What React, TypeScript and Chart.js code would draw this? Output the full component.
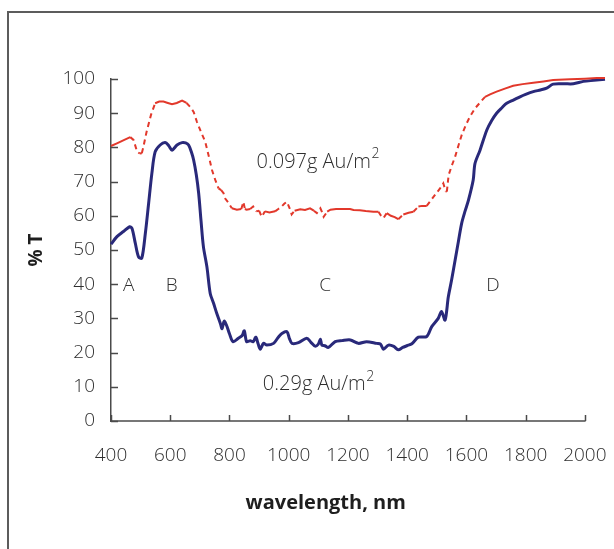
import React, { useEffect, useRef } from 'react';
import { Chart, registerables } from 'chart.js';

Chart.register(...registerables);

// 0.097 g Au/m2 sample (red, dashed where steep)
const lowWavelengths = [
  400, 420, 445, 465, 476, 488, 497, 504, 509, 520, 535, 549, 563, 577, 592, 606, 622, 640, 655, 667,
  679, 690, 704, 718, 730, 741, 752, 763, 772, 780, 785, 795, 808, 825, 840, 847, 852, 858, 870, 880,
  891, 900, 909, 920, 935, 954, 965, 976, 985, 994, 1005, 1010, 1020, 1039, 1055, 1072, 1085, 1095, 1107, 1113,
  1118, 1130, 1141, 1160, 1185, 1207, 1219, 1240, 1260, 1286, 1303, 1312, 1320, 1331, 1345, 1358, 1370, 1387, 1405, 1421,
  1438, 1450, 1466, 1480, 1494, 1511, 1522, 1530, 1534, 1540, 1550, 1562, 1573, 1584, 1598, 1612, 1630, 1646, 1663, 1680,
  1702, 1730, 1758, 1790, 1826, 1860, 1893, 1950, 2000, 2040, 2068,
];
const lowTransmission = [
  80.4, 81.2, 82.2, 83.0, 82.2, 78.8, 78.2, 78.3, 80.0, 84.5, 89.5, 92.9, 93.4, 93.4, 93.0, 92.6, 93.0, 93.7, 93.0, 91.9,
  90.4, 87.5, 84.5, 81.7, 77.5, 73.4, 70.5, 68.0, 67.5, 66.6, 65.1, 64.0, 62.2, 61.8, 62.0, 64.1, 62.0, 61.8, 62.0, 62.7,
  61.3, 61.5, 59.7, 61.3, 61.0, 61.3, 62.0, 62.7, 63.5, 64.1, 61.8, 60.4, 61.5, 61.9, 61.7, 62.2, 61.5, 60.8, 62.2, 61.0,
  59.7, 61.2, 61.8, 62.0, 62.0, 62.0, 61.7, 61.6, 61.4, 61.2, 61.2, 60.0, 59.3, 60.8, 60.0, 59.6, 59.0, 60.4, 60.9, 61.2,
  62.7, 62.9, 62.9, 64.5, 66.1, 68.0, 69.5, 67.2, 67.1, 71.9, 74.5, 77.3, 80.5, 83.6, 86.5, 89.0, 91.5, 93.1, 94.8, 95.5,
  96.3, 97.2, 98.0, 98.5, 98.9, 99.3, 99.7, 99.9, 100.1, 100.3, 100.3,
];

// 0.29 g Au/m2 sample (navy, solid)
const highWavelengths = [
  400, 420, 442, 463, 471, 482, 493, 504, 516, 527, 538, 549, 566, 583, 595, 606, 623, 640, 652, 662,
  672, 679, 688, 696, 704, 712, 724, 735, 746, 757, 769, 775, 782, 790, 800, 812, 830, 843, 850, 858,
  870, 880, 889, 897, 904, 915, 926, 949, 965, 977, 994, 1003, 1011, 1033, 1061, 1075, 1089, 1100, 1107, 1112,
  1122, 1134, 1157, 1180, 1208, 1235, 1263, 1297, 1310, 1320, 1337, 1355, 1370, 1385, 1399, 1416, 1438, 1466, 1483, 1505,
  1516, 1528, 1539, 1550, 1562, 1573, 1584, 1596, 1607, 1623, 1629, 1646, 1669, 1685, 1702, 1720, 1736, 1760, 1781, 1800,
  1826, 1850, 1871, 1893, 1930, 1961, 1995, 2030, 2068,
];
const highTransmission = [
  51.7, 53.9, 55.4, 56.8, 56.3, 52.0, 48.0, 47.6, 54.9, 63.6, 72.4, 78.7, 80.7, 81.4, 80.5, 79.2, 80.7, 81.4, 81.3, 80.7,
  78.5, 76.3, 72.0, 66.6, 58.5, 51.0, 45.0, 37.3, 34.5, 31.5, 28.6, 27.0, 29.2, 28.0, 25.5, 23.2, 24.2, 25.0, 26.4, 23.2,
  23.5, 23.2, 24.5, 22.5, 21.0, 22.7, 22.2, 22.7, 24.5, 25.6, 26.1, 24.0, 22.7, 22.9, 24.2, 23.0, 21.9, 22.5, 23.9, 22.2,
  22.0, 21.5, 23.2, 23.5, 23.7, 22.7, 23.2, 22.7, 22.5, 21.0, 22.2, 21.8, 20.8, 21.5, 22.0, 22.6, 24.5, 24.7, 27.6, 30.0,
  32.0, 29.5, 36.3, 41.2, 47.1, 52.5, 57.8, 61.5, 64.6, 70.5, 75.3, 79.2, 85.1, 87.8, 90.0, 91.6, 92.9, 93.9, 94.8, 95.5,
  96.3, 96.8, 97.3, 98.5, 98.6, 98.6, 99.3, 99.6, 99.9,
];

const seriesLabels = ['0.097g Au/m', '0.29g Au/m'];
const regionLetters = ['A', 'B', 'C', 'D'];
const xTickValues = [400, 600, 800, 1000, 1200, 1400, 1600, 1800, 2000];
const yTickValues = [0, 10, 20, 30, 40, 50, 60, 70, 80, 90, 100];
const xAxisTitle = 'wavelength, nm';

const FONT = '"Open Sans", "Noto Sans", sans-serif';
const TEXT = '#2e2e2e';
const AXIS = '#4a4a4a';

const decorPlugin = {
  id: 'decor',
  afterDraw(chart: any, _args: any, opts: any) {
    const { ctx, chartArea, scales } = chart;
    const x = scales.x;
    const y = scales.y;
    ctx.save();
    ctx.strokeStyle = AXIS;
    ctx.lineWidth = 1.5;
    // x axis line, only over the labelled range
    const x0 = x.getPixelForValue(xTickValues[0]);
    const x1 = x.getPixelForValue(xTickValues[xTickValues.length - 1]);
    ctx.beginPath();
    ctx.moveTo(x0, chartArea.bottom);
    ctx.lineTo(x1 + 0.75, chartArea.bottom);
    ctx.stroke();
    // inward tick marks
    xTickValues.forEach((v) => {
      const px = Math.round(x.getPixelForValue(v)) + 0.5;
      ctx.beginPath();
      ctx.moveTo(px, chartArea.bottom);
      ctx.lineTo(px, chartArea.bottom - 6);
      ctx.stroke();
    });
    yTickValues.forEach((v) => {
      const py = Math.round(y.getPixelForValue(v)) + 0.5;
      ctx.beginPath();
      ctx.moveTo(chartArea.left, py);
      ctx.lineTo(chartArea.left + 7, py);
      ctx.stroke();
    });

    ctx.fillStyle = TEXT;
    ctx.textBaseline = 'middle';
    // region letters
    ctx.font = `300 19px ${FONT}`;
    ctx.textAlign = 'center';
    opts.regions.forEach((wl: number, i: number) => {
      ctx.fillText(regionLetters[i], x.getPixelForValue(wl), y.getPixelForValue(opts.regionLevel));
    });
    // series notes with superscript 2
    opts.notes.forEach((n: { wl: number; v: number }, i: number) => {
      const main = seriesLabels[i];
      ctx.font = `300 20px ${FONT}`;
      const w1 = ctx.measureText(main).width;
      ctx.font = `300 14px ${FONT}`;
      const w2 = ctx.measureText('2').width;
      const cx = x.getPixelForValue(n.wl);
      const cy = y.getPixelForValue(n.v);
      const start = cx - (w1 + w2) / 2;
      ctx.textAlign = 'left';
      ctx.font = `300 20px ${FONT}`;
      ctx.fillText(main, start, cy);
      ctx.font = `300 14px ${FONT}`;
      ctx.fillText('2', start + w1 + 0.5, cy - 8);
    });
    // x axis title
    ctx.fillStyle = '#1e1e1e';
    ctx.font = `bold 20px ${FONT}`;
    ctx.textAlign = 'center';
    ctx.fillText(xAxisTitle, x.getPixelForValue(opts.titleWl), chartArea.bottom + opts.titleOffset);
    ctx.restore();
  },
};

export default function App() {
  const canvasRef = useRef<HTMLCanvasElement | null>(null);

  useEffect(() => {
    const canvas = canvasRef.current;
    if (!canvas) return;
    const steepDash = (ctx: any) => {
      const dx = Math.abs(ctx.p1.x - ctx.p0.x);
      const dy = Math.abs(ctx.p1.y - ctx.p0.y);
      return dy > dx * 0.7 ? [5, 4] : undefined;
    };
    const chart = new Chart(canvas, {
      type: 'line',
      data: {
        datasets: [
          {
            label: seriesLabels[0],
            data: lowWavelengths.map((w, i) => ({ x: w, y: lowTransmission[i] })),
            borderColor: '#e2382b',
            borderWidth: 2,
            pointRadius: 0,
            tension: 0,
            clip: false as any,
            segment: { borderDash: steepDash },
          },
          {
            label: seriesLabels[1],
            data: highWavelengths.map((w, i) => ({ x: w, y: highTransmission[i] })),
            borderColor: '#29297a',
            borderWidth: 3,
            pointRadius: 0,
            tension: 0.3,
            clip: false as any,
          },
        ],
      },
      options: {
        animation: false,
        responsive: false,
        devicePixelRatio: 1,
        layout: { padding: { left: 0, top: 79, right: 9, bottom: 0 } },
        plugins: {
          legend: { display: false },
          tooltip: { enabled: false },
          decor: {
            regions: [460, 605, 1123, 1690],
            regionLevel: 39.5,
            notes: [
              { wl: 1098, v: 75.6 },
              { wl: 1100, v: 10.6 },
            ],
            titleWl: 1125,
            titleOffset: 82,
          },
        } as any,
        scales: {
          x: {
            type: 'linear',
            min: 400,
            max: 2068,
            grid: { display: false, drawTicks: false },
            border: { display: false },
            afterBuildTicks: (s: any) => {
              s.ticks = xTickValues.map((v) => ({ value: v }));
            },
            ticks: {
              autoSkip: false,
              maxRotation: 0,
              padding: 23,
              color: TEXT,
              font: { family: FONT, size: 19, weight: '300' as any },
              callback: (v: any) => String(v),
            },
            title: { display: false },
            afterFit: (s: any) => {
              s.height = 128;
              s.paddingLeft = 0;
              s.paddingRight = 0;
            },
          },
          y: {
            min: 0,
            max: 100,
            grid: { display: false, drawTicks: false },
            border: { display: true, color: AXIS, width: 1.5 },
            ticks: {
              stepSize: 10,
              padding: 16,
              color: TEXT,
              font: { family: FONT, size: 19, weight: '300' as any },
              callback: (v: any) => String(v),
            },
            title: {
              display: true,
              text: '% T',
              color: '#1e1e1e',
              font: { family: FONT, size: 19, weight: 'bold' },
              padding: { top: 25, bottom: 0 },
            },
            afterFit: (s: any) => {
              s.width = 111;
              s.paddingTop = 0;
              s.paddingBottom = 0;
            },
          },
        },
      },
      plugins: [decorPlugin],
    });
    return () => chart.destroy();
  }, []);

  return (
    <div
      style={{
        position: 'fixed',
        left: 0,
        top: 0,
        width: 614,
        height: 549,
        overflow: 'hidden',
        background: '#ffffff',
      }}
    >
      <div
        style={{
          position: 'absolute',
          left: 7,
          top: 11,
          width: 700,
          height: 700,
          borderTop: '2px solid #5c5c5c',
          borderLeft: '2px solid #5c5c5c',
        }}
      />
      <canvas
        ref={canvasRef}
        width={614}
        height={549}
        style={{ position: 'absolute', left: 0, top: 0, width: 614, height: 549 }}
      />
    </div>
  );
}
